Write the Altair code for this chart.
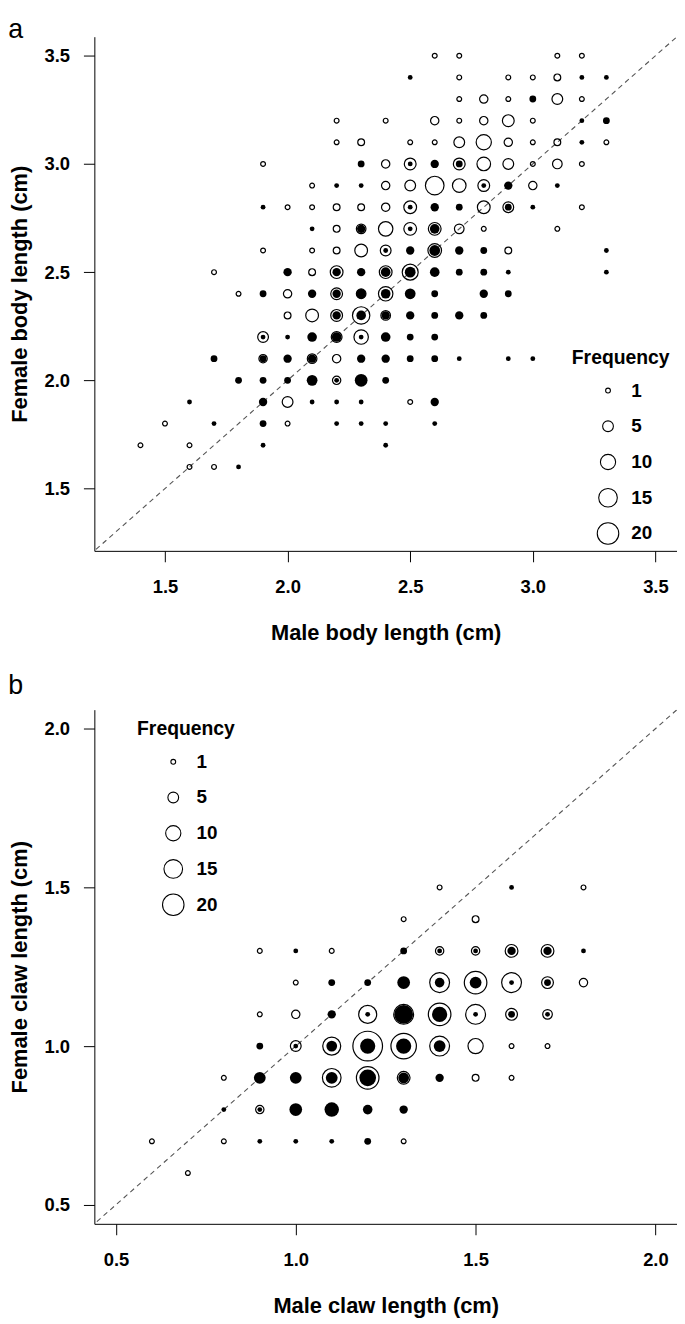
import altair as alt
import pandas as pd

FONT = "Liberation Sans"

# ---------------- Panel a : body length ----------------
A_DOMAIN = [1.212, 3.588]
A_TICKS = [1.5, 2.0, 2.5, 3.0, 3.5]
A_DIAG = [1.0, 4.0]
A_XTITLE = "Male body length (cm)"
A_YTITLE = "Female body length (cm)"

# open circles: (male, female, frequency)
A_OPEN = [
    (2.6, 3.5, 1), (2.7, 3.5, 1), (3.1, 3.5, 1), (3.2, 3.5, 1),
    (2.7, 3.4, 1), (2.9, 3.4, 1), (3.0, 3.4, 1), (3.1, 3.4, 2),
    (2.7, 3.3, 1), (2.8, 3.3, 3), (2.9, 3.3, 1), (3.1, 3.3, 5), (3.2, 3.3, 1),
    (2.2, 3.2, 1), (2.4, 3.2, 1), (2.6, 3.2, 3), (2.7, 3.2, 1), (2.8, 3.2, 3), (2.9, 3.2, 6), (3.0, 3.2, 1),
    (2.2, 3.1, 1), (2.3, 3.1, 2), (2.5, 3.1, 1), (2.6, 3.1, 1), (2.7, 3.1, 5), (2.8, 3.1, 10), (2.9, 3.1, 3),
    (3.0, 3.1, 1), (3.1, 3.1, 2), (3.3, 3.1, 1),
    (1.9, 3.0, 1), (2.4, 3.0, 3), (2.5, 3.0, 6), (2.7, 3.0, 6), (2.8, 3.0, 8), (2.9, 3.0, 5), (3.0, 3.0, 1),
    (3.1, 3.0, 4), (3.2, 3.0, 1),
    (2.1, 2.9, 1), (2.4, 2.9, 3), (2.5, 2.9, 5), (2.6, 2.9, 15), (2.7, 2.9, 8), (2.8, 2.9, 6), (3.0, 2.9, 3),
    (2.0, 2.8, 1), (2.1, 2.8, 1), (2.2, 2.8, 2), (2.3, 2.8, 2), (2.4, 2.8, 3), (2.5, 2.8, 7), (2.8, 2.8, 7),
    (2.9, 2.8, 5), (3.2, 2.8, 1),
    (2.2, 2.7, 2), (2.3, 2.7, 4), (2.4, 2.7, 9), (2.5, 2.7, 7), (2.6, 2.7, 7), (2.7, 2.7, 4), (2.8, 2.7, 1),
    (3.1, 2.7, 1),
    (1.9, 2.6, 1), (2.1, 2.6, 1), (2.2, 2.6, 2), (2.3, 2.6, 7), (2.4, 2.6, 5), (2.6, 2.6, 8), (2.9, 2.6, 2),
    (1.7, 2.5, 1), (2.1, 2.5, 2), (2.2, 2.5, 7), (2.4, 2.5, 7), (2.5, 2.5, 11),
    (1.8, 2.4, 1), (2.0, 2.4, 3), (2.2, 2.4, 6), (2.3, 2.4, 4), (2.4, 2.4, 9),
    (2.0, 2.3, 2), (2.1, 2.3, 7), (2.2, 2.3, 6), (2.3, 2.3, 13), (2.4, 2.3, 4),
    (1.9, 2.2, 5), (2.2, 2.2, 5), (2.3, 2.2, 9),
    (1.9, 2.1, 3), (2.1, 2.1, 4), (2.2, 2.1, 3),
    (2.2, 2.0, 3),
    (2.0, 1.9, 5), (2.5, 1.9, 1),
    (1.5, 1.8, 1), (2.0, 1.8, 1),
    (1.4, 1.7, 1), (1.6, 1.7, 1),
    (1.6, 1.6, 1), (1.7, 1.6, 1),
]

# filled dots: (male, female, frequency)
A_FILLED = [
    (2.5, 3.4, 1), (3.2, 3.4, 1), (3.3, 3.4, 1),
    (3.0, 3.3, 2),
    (3.2, 3.2, 1), (3.3, 3.2, 2),
    (3.2, 3.1, 1),
    (2.3, 3.0, 2), (2.5, 3.0, 1), (2.6, 3.0, 3), (2.7, 3.0, 2),
    (2.2, 2.9, 1), (2.3, 2.9, 1), (2.8, 2.9, 1), (2.9, 2.9, 3), (3.1, 2.9, 1),
    (1.9, 2.8, 1), (2.5, 2.8, 1), (2.6, 2.8, 3), (2.7, 2.8, 2), (2.9, 2.8, 2), (3.0, 2.8, 1),
    (2.1, 2.7, 1), (2.3, 2.7, 3), (2.5, 2.7, 1), (2.6, 2.7, 4),
    (2.4, 2.6, 1), (2.5, 2.6, 3), (2.6, 2.6, 5), (2.7, 2.6, 3), (2.8, 2.6, 2), (3.3, 2.6, 1),
    (2.0, 2.5, 3), (2.2, 2.5, 3), (2.3, 2.5, 3), (2.4, 2.5, 4), (2.5, 2.5, 5), (2.6, 2.5, 4), (2.7, 2.5, 2),
    (2.8, 2.5, 2), (2.9, 2.5, 1), (3.3, 2.5, 1),
    (1.9, 2.4, 2), (2.1, 2.4, 3), (2.2, 2.4, 3), (2.3, 2.4, 4), (2.4, 2.4, 4), (2.5, 2.4, 5), (2.6, 2.4, 2),
    (2.8, 2.4, 3), (2.9, 2.4, 2),
    (2.2, 2.3, 3), (2.3, 2.3, 4), (2.4, 2.3, 3), (2.5, 2.3, 3), (2.6, 2.3, 2), (2.7, 2.3, 3), (2.8, 2.3, 2),
    (1.9, 2.2, 1), (2.0, 2.2, 1), (2.1, 2.2, 4), (2.2, 2.2, 4), (2.3, 2.2, 1), (2.4, 2.2, 4), (2.5, 2.2, 2),
    (2.6, 2.2, 2),
    (1.7, 2.1, 2), (1.9, 2.1, 2), (2.0, 2.1, 3), (2.1, 2.1, 3), (2.3, 2.1, 3), (2.4, 2.1, 3), (2.5, 2.1, 2),
    (2.6, 2.1, 2), (2.7, 2.1, 1), (2.9, 2.1, 1), (3.0, 2.1, 1),
    (1.8, 2.0, 2), (1.9, 2.0, 2), (2.0, 2.0, 2), (2.1, 2.0, 5), (2.2, 2.0, 1), (2.3, 2.0, 7), (2.4, 2.0, 2),
    (1.6, 1.9, 1), (1.9, 1.9, 3), (2.1, 1.9, 1), (2.2, 1.9, 1), (2.3, 1.9, 1), (2.6, 1.9, 3),
    (1.7, 1.8, 1), (1.9, 1.8, 2), (2.2, 1.8, 1), (2.3, 1.8, 1), (2.4, 1.8, 1), (2.6, 1.8, 1),
    (1.9, 1.7, 1), (2.4, 1.7, 1),
    (1.8, 1.6, 1),
]

# ---------------- Panel b : claw length ----------------
B_DOMAIN = [0.44, 2.06]
B_TICKS = [0.5, 1.0, 1.5, 2.0]
B_DIAG = [0.0, 2.5]
B_XTITLE = "Male claw length (cm)"
B_YTITLE = "Female claw length (cm)"

B_OPEN = [
    (0.7, 0.6, 1),
    (0.6, 0.7, 1), (0.8, 0.7, 1), (1.3, 0.7, 1),
    (0.9, 0.8, 3),
    (0.8, 0.9, 1), (1.1, 0.9, 15), (1.2, 0.9, 22), (1.3, 0.9, 7), (1.5, 0.9, 2), (1.6, 0.9, 1),
    (1.0, 1.0, 5), (1.1, 1.0, 14), (1.2, 1.0, 38), (1.3, 1.0, 28), (1.4, 1.0, 17), (1.5, 1.0, 10),
    (1.6, 1.0, 1), (1.7, 1.0, 1),
    (0.9, 1.1, 1), (1.0, 1.1, 3), (1.2, 1.1, 14), (1.3, 1.1, 17), (1.4, 1.1, 22), (1.5, 1.1, 17),
    (1.6, 1.1, 6), (1.7, 1.1, 4),
    (1.0, 1.2, 1), (1.4, 1.2, 17), (1.5, 1.2, 22), (1.6, 1.2, 17), (1.7, 1.2, 6), (1.8, 1.2, 3),
    (0.9, 1.3, 1), (1.1, 1.3, 1), (1.4, 1.3, 3), (1.5, 1.3, 3), (1.6, 1.3, 7), (1.7, 1.3, 7),
    (1.3, 1.4, 1), (1.5, 1.4, 2),
    (1.4, 1.5, 1), (1.8, 1.5, 1),
]

B_FILLED = [
    (0.9, 0.7, 1), (1.0, 0.7, 1), (1.1, 0.7, 1), (1.2, 0.7, 2),
    (0.8, 0.8, 1), (0.9, 0.8, 1), (1.0, 0.8, 7), (1.1, 0.8, 9), (1.2, 0.8, 4), (1.3, 0.8, 3),
    (0.9, 0.9, 6), (1.0, 0.9, 6), (1.1, 0.9, 6), (1.2, 0.9, 12), (1.3, 0.9, 5), (1.4, 0.9, 3),
    (0.9, 1.0, 2), (1.0, 1.0, 1), (1.1, 1.0, 5), (1.2, 1.0, 10), (1.3, 1.0, 10), (1.4, 1.0, 6),
    (1.1, 1.1, 3), (1.2, 1.1, 1), (1.3, 1.1, 15), (1.4, 1.1, 10), (1.5, 1.1, 1), (1.6, 1.1, 2), (1.7, 1.1, 1),
    (1.1, 1.2, 2), (1.2, 1.2, 2), (1.3, 1.2, 7), (1.4, 1.2, 4), (1.5, 1.2, 6), (1.6, 1.2, 1), (1.7, 1.2, 2),
    (1.0, 1.3, 1), (1.3, 1.3, 2), (1.4, 1.3, 1), (1.5, 1.3, 1), (1.6, 1.3, 3), (1.7, 1.3, 3), (1.8, 1.3, 1),
    (1.6, 1.5, 1),
]

LEGEND_VALUES = [1, 5, 10, 15, 20]
SIZE_DOMAIN = [0, 20]
SIZE_RANGE = [0, 470]


def panel(label, open_pts, filled_pts, domain, ticks, diag, xtitle, ytitle, lx, ly, toff):
    df_open = pd.DataFrame(open_pts, columns=["x", "y", "f"])
    df_fill = pd.DataFrame(filled_pts, columns=["x", "y", "f"])
    df_diag = pd.DataFrame({"x": diag, "y": diag})

    xs = alt.Scale(domain=domain, nice=False, zero=False)
    ys = alt.Scale(domain=domain, nice=False, zero=False)
    ss = alt.Scale(domain=SIZE_DOMAIN, range=SIZE_RANGE, zero=True)

    xaxis = alt.Axis(values=ticks, format=".1f", title=xtitle, labelFlush=False,
                     labelOverlap=False)
    yaxis = alt.Axis(values=ticks, format=".1f", title=ytitle, labelFlush=False,
                     labelOverlap=False)

    line = alt.Chart(df_diag).mark_line(
        strokeDash=[5, 4], color="#555555", strokeWidth=1.1, clip=True
    ).encode(
        x=alt.X("x:Q", scale=xs, axis=xaxis),
        y=alt.Y("y:Q", scale=ys, axis=yaxis),
    )

    legend = alt.Legend(
        title="Frequency", values=LEGEND_VALUES, orient="none",
        legendX=lx, legendY=ly,
        titleFont=FONT, titleFontSize=19.5, titleFontWeight="bold", titleColor="black",
        titlePadding=10,
        labelFont=FONT, labelFontSize=19, labelFontWeight="bold", labelColor="black",
        labelExpr="datum.value < 10 ? '\u00a0' + datum.label : datum.label",
        symbolType="circle", symbolFillColor="transparent", symbolStrokeColor="black",
        symbolStrokeWidth=1.1, symbolOpacity=1,
        clipHeight=24, rowPadding=12, symbolOffset=25, labelOffset=12,
    )

    opens = alt.Chart(df_open).mark_point(
        shape="circle", filled=False, color="black", strokeWidth=1.2, opacity=1
    ).encode(
        x=alt.X("x:Q", scale=xs),
        y=alt.Y("y:Q", scale=ys),
        size=alt.Size("f:Q", scale=ss, legend=legend),
    )

    fills = alt.Chart(df_fill).mark_circle(color="black", opacity=1).encode(
        x=alt.X("x:Q", scale=xs),
        y=alt.Y("y:Q", scale=ys),
        size=alt.Size("f:Q", scale=ss, legend=None),
    )

    return alt.layer(line, opens, fills).properties(
        width=587, height=518,
        title=alt.TitleParams(text=label, anchor="start", frame="bounds", fontSize=27,
                              fontWeight="normal", font=FONT, color="black", offset=toff),
    )


pa = panel("a", A_OPEN, A_FILLED, A_DOMAIN, A_TICKS, A_DIAG, A_XTITLE, A_YTITLE, 481, 315, -7)
pb = panel("b", B_OPEN, B_FILLED, B_DOMAIN, B_TICKS, B_DIAG, B_XTITLE, B_YTITLE, 43, 11, 10)

chart = alt.vconcat(
    pa, pb, spacing=28,
    padding={"left": 0, "top": 3, "right": 0, "bottom": 0},
).resolve_scale(
    size="independent"
).resolve_legend(
    size="independent"
).configure_view(
    stroke=None
).configure_axis(
    grid=False, domainColor="black", domainWidth=1, tickColor="black", tickWidth=1,
    tickSize=11, labelFont=FONT, labelFontSize=18.5, labelFontWeight="bold",
    labelColor="black", titleFont=FONT, titleFontSize=22, titleFontWeight="bold",
    titleColor="black",
).configure_axisX(
    labelPadding=16, titlePadding=27
).configure_axisY(
    labelPadding=14, titlePadding=13
)

chart.save("out.html", embed_options={"renderer": "svg", "actions": False})
